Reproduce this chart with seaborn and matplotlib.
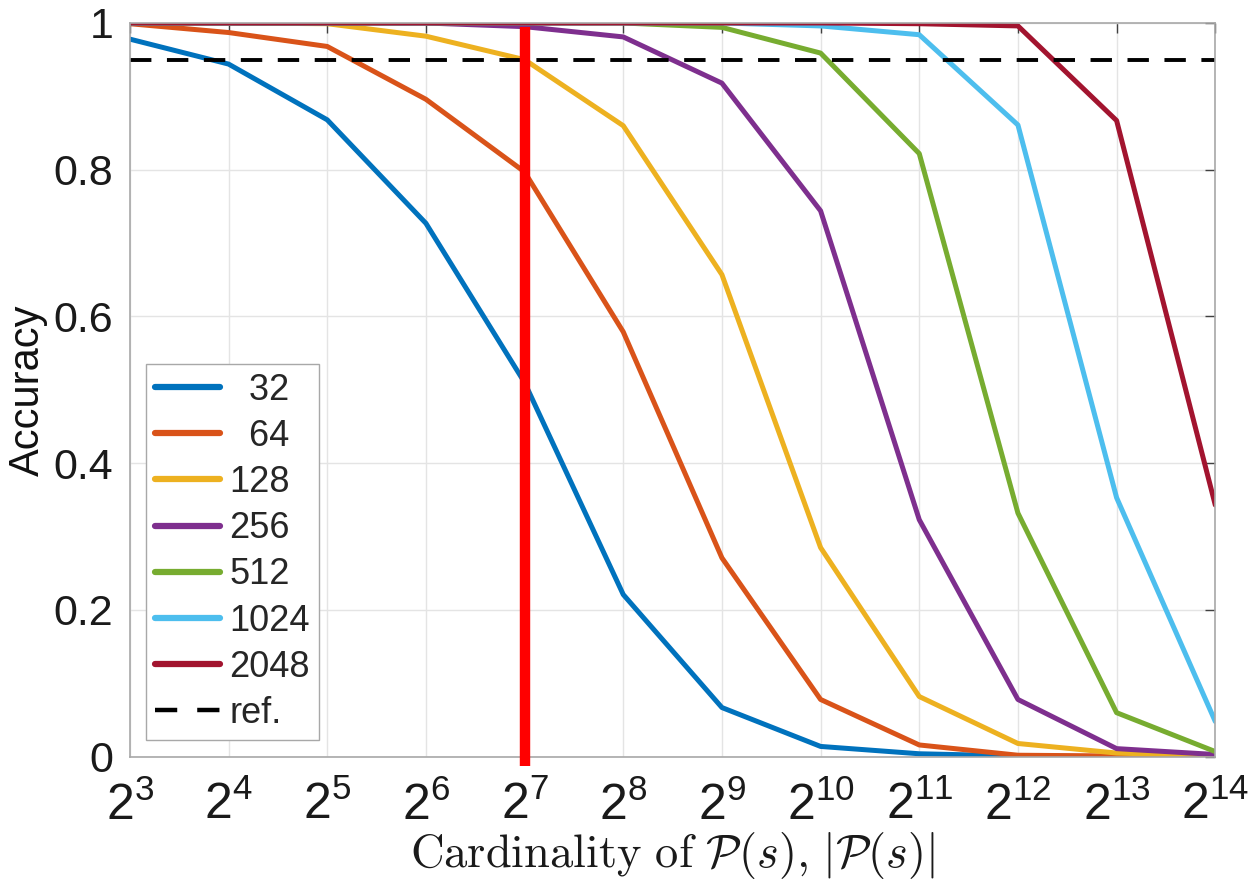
import numpy as np
import pandas as pd
import seaborn as sns
import matplotlib.pyplot as plt
from matplotlib.lines import Line2D
from matplotlib.ticker import LogFormatterMathtext, FixedLocator

# x axis: cardinality |P(s)| = 2^k
exponents = [3, 4, 5, 6, 7, 8, 9, 10, 11, 12, 13, 14]

# accuracy per set size
acc_32 = [0.978, 0.944, 0.868, 0.727, 0.510, 0.221, 0.067, 0.014, 0.004, 0.001, 0.0, 0.0]
acc_64 = [0.999, 0.987, 0.968, 0.896, 0.797, 0.579, 0.271, 0.078, 0.016, 0.002, 0.001, 0.0]
acc_128 = [1.0, 1.0, 0.999, 0.982, 0.950, 0.860, 0.657, 0.285, 0.082, 0.018, 0.005, 0.001]
acc_256 = [1.0, 1.0, 1.0, 1.0, 0.995, 0.981, 0.918, 0.744, 0.323, 0.078, 0.011, 0.003]
acc_512 = [1.0, 1.0, 1.0, 1.0, 1.0, 1.0, 0.994, 0.959, 0.822, 0.332, 0.060, 0.007]
acc_1024 = [1.0, 1.0, 1.0, 1.0, 1.0, 1.0, 1.0, 0.996, 0.984, 0.861, 0.353, 0.048]
acc_2048 = [1.0, 1.0, 1.0, 1.0, 1.0, 1.0, 1.0, 1.0, 0.999, 0.996, 0.867, 0.343]

set_sizes = ['32', '64', '128', '256', '512', '1024', '2048']
legend_labels = ['  32', '  64', '128', '256', '512', '1024', '2048', 'ref.']
colors = ['#0072BD', '#D95319', '#EDB120', '#7E2F8E', '#77AC30', '#4DBEEE', '#A2142F']
ref_level = 0.95
marked_exp = 7

all_acc = [acc_32, acc_64, acc_128, acc_256, acc_512, acc_1024, acc_2048]
rows = []
for size, acc in zip(set_sizes, all_acc):
    for k, a in zip(exponents, acc):
        rows.append((size, 2 ** k, a))
df = pd.DataFrame(rows, columns=['size', 'card', 'acc'])

sns.set_theme(style='whitegrid')
plt.rcParams['font.family'] = ['Liberation Sans', 'DejaVu Sans']
plt.rcParams['mathtext.fontset'] = 'custom'
plt.rcParams['mathtext.rm'] = 'Liberation Sans'
plt.rcParams['mathtext.it'] = 'Liberation Sans:italic'
plt.rcParams['mathtext.bf'] = 'Liberation Sans:bold'

fig, ax = plt.subplots(figsize=(12.49, 8.84), dpi=100)
fig.subplots_adjust(left=0.104, right=0.973, bottom=0.144, top=0.974)

sns.lineplot(data=df, x='card', y='acc', hue='size', hue_order=set_sizes,
             palette=colors, linewidth=3.6, ax=ax, legend=False)
ax.axhline(ref_level, color='black', linestyle=(0, (5.5, 4)), linewidth=2.8)
ax.plot([2 ** marked_exp] * 2, [-0.012, 0.995], color='#FF0000', linewidth=7.5,
        solid_capstyle='butt', clip_on=False, zorder=5)

ax.set_xscale('log', base=2)
ax.set_xlim(2 ** exponents[0], 2 ** exponents[-1])
ax.set_ylim(0, 1)
ax.xaxis.set_major_locator(FixedLocator([2 ** k for k in exponents]))
ax.xaxis.set_major_formatter(LogFormatterMathtext(base=2))
ax.xaxis.set_minor_locator(FixedLocator([]))
ax.set_yticks([0, 0.2, 0.4, 0.6, 0.8, 1])
ax.set_yticklabels(['0', '0.2', '0.4', '0.6', '0.8', '1'])

ax.grid(True, color='#e4e4e4', linewidth=1)
for s in ax.spines.values():
    s.set_color('#a8a8a8')
    s.set_linewidth(1.2)
ax.tick_params(axis='both', which='major', direction='in', length=7, width=1,
               color='#404040', labelcolor='#1a1a1a', top=True, right=True)
ax.tick_params(axis='x', labelsize=36, pad=18)
ax.tick_params(axis='y', labelsize=31, pad=12)

ax.set_ylabel('Accuracy', fontsize=30, color='#111111', labelpad=4)
ax.set_xlabel(r'$\mathrm{Cardinality\ of\ }\mathcal{P}(s)\mathrm{,}\ |\mathcal{P}(s)|$',
              fontsize=33.5, color='#1a1a1a', math_fontfamily='cm', labelpad=0)

handles = [Line2D([], [], color=c, linewidth=4.5) for c in colors]
handles.append(Line2D([], [], color='black', linewidth=3.2, linestyle=(0, (5, 4.5))))
leg = ax.legend(handles, legend_labels, loc='lower left',
                bbox_to_anchor=(146 / 1249, 1 - 740 / 884), bbox_transform=fig.transFigure,
                borderaxespad=0, fontsize=26, frameon=True, fancybox=False,
                handlelength=1.8, handletextpad=0.25, labelspacing=0.31,
                borderpad=0.25)
leg.get_frame().set_edgecolor('#a8a8a8')
leg.get_frame().set_linewidth(1)
leg.get_frame().set_alpha(1)

fig.savefig('out.png', dpi=100)
